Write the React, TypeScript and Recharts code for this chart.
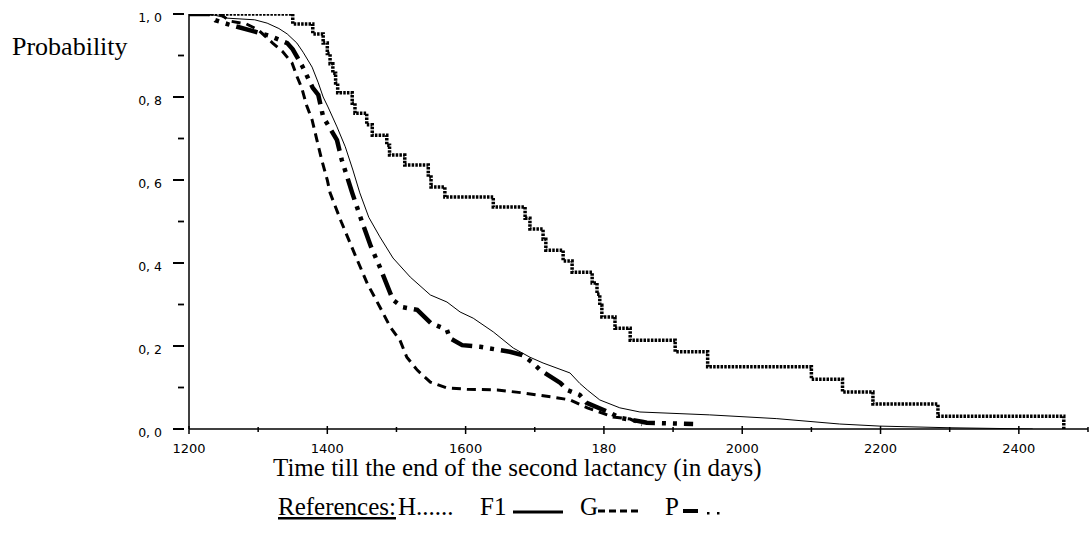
import React from 'react';
import { LineChart, Line, XAxis, YAxis } from 'recharts';

// ---- data (time in days, survival probability) ----
const seriesH = [
  { t: 1200, p: 1.0 }, { t: 1350, p: 0.976 }, { t: 1379, p: 0.952 }, { t: 1394, p: 0.93 },
  { t: 1400, p: 0.905 }, { t: 1404, p: 0.88 }, { t: 1408, p: 0.857 }, { t: 1412, p: 0.834 },
  { t: 1415, p: 0.81 }, { t: 1436, p: 0.785 }, { t: 1440, p: 0.761 }, { t: 1457, p: 0.733 },
  { t: 1465, p: 0.708 }, { t: 1486, p: 0.684 }, { t: 1490, p: 0.66 }, { t: 1512, p: 0.636 },
  { t: 1546, p: 0.607 }, { t: 1550, p: 0.583 }, { t: 1570, p: 0.559 }, { t: 1640, p: 0.535 },
  { t: 1686, p: 0.508 }, { t: 1693, p: 0.482 }, { t: 1712, p: 0.457 }, { t: 1716, p: 0.431 },
  { t: 1741, p: 0.405 }, { t: 1754, p: 0.378 }, { t: 1783, p: 0.352 }, { t: 1790, p: 0.325 },
  { t: 1794, p: 0.298 }, { t: 1797, p: 0.27 }, { t: 1816, p: 0.243 }, { t: 1838, p: 0.214 },
  { t: 1903, p: 0.186 }, { t: 1950, p: 0.15 }, { t: 2100, p: 0.12 }, { t: 2145, p: 0.089 },
  { t: 2189, p: 0.06 }, { t: 2283, p: 0.031 }, { t: 2465, p: 0.0 },
];

const seriesF1 = [
  { t: 1200, p: 1.0 }, { t: 1235, p: 0.998 }, { t: 1255, p: 0.99 }, { t: 1295, p: 0.986 },
  { t: 1313, p: 0.978 }, { t: 1330, p: 0.965 }, { t: 1342, p: 0.952 }, { t: 1356, p: 0.93 },
  { t: 1365, p: 0.908 }, { t: 1378, p: 0.872 }, { t: 1387, p: 0.834 }, { t: 1394, p: 0.8 },
  { t: 1401, p: 0.776 }, { t: 1414, p: 0.728 }, { t: 1426, p: 0.68 }, { t: 1437, p: 0.624 },
  { t: 1447, p: 0.569 }, { t: 1460, p: 0.51 }, { t: 1476, p: 0.463 }, { t: 1495, p: 0.412 },
  { t: 1520, p: 0.366 }, { t: 1549, p: 0.323 }, { t: 1573, p: 0.306 }, { t: 1592, p: 0.282 },
  { t: 1611, p: 0.267 }, { t: 1640, p: 0.234 }, { t: 1669, p: 0.195 }, { t: 1693, p: 0.173 },
  { t: 1712, p: 0.159 }, { t: 1751, p: 0.135 }, { t: 1765, p: 0.11 }, { t: 1776, p: 0.094 },
  { t: 1794, p: 0.07 }, { t: 1823, p: 0.051 }, { t: 1852, p: 0.041 }, { t: 1910, p: 0.037 },
  { t: 1953, p: 0.034 }, { t: 2050, p: 0.025 }, { t: 2141, p: 0.012 }, { t: 2199, p: 0.007 },
  { t: 2300, p: 0.003 }, { t: 2420, p: 0.0 },
];

const seriesG = [
  { t: 1200, p: 1.0 }, { t: 1245, p: 1.0 }, { t: 1259, p: 0.983 }, { t: 1283, p: 0.976 },
  { t: 1300, p: 0.962 }, { t: 1321, p: 0.93 }, { t: 1335, p: 0.91 }, { t: 1349, p: 0.882 },
  { t: 1356, p: 0.85 }, { t: 1363, p: 0.822 }, { t: 1370, p: 0.78 }, { t: 1378, p: 0.745 },
  { t: 1385, p: 0.696 }, { t: 1392, p: 0.648 }, { t: 1400, p: 0.6 }, { t: 1404, p: 0.569 },
  { t: 1420, p: 0.5 }, { t: 1440, p: 0.42 }, { t: 1458, p: 0.35 }, { t: 1476, p: 0.294 },
  { t: 1491, p: 0.246 }, { t: 1505, p: 0.214 }, { t: 1515, p: 0.173 }, { t: 1530, p: 0.142 },
  { t: 1549, p: 0.113 }, { t: 1573, p: 0.099 }, { t: 1602, p: 0.096 }, { t: 1646, p: 0.094 },
  { t: 1683, p: 0.087 }, { t: 1726, p: 0.077 }, { t: 1751, p: 0.07 }, { t: 1776, p: 0.051 },
  { t: 1813, p: 0.029 }, { t: 1838, p: 0.024 }, { t: 1855, p: 0.01 },
];

const seriesP = [
  { t: 1200, p: 1.0 }, { t: 1230, p: 1.0 }, { t: 1238, p: 0.985 }, { t: 1257, p: 0.975 },
  { t: 1290, p: 0.96 }, { t: 1317, p: 0.947 }, { t: 1342, p: 0.93 }, { t: 1350, p: 0.915 },
  { t: 1363, p: 0.877 }, { t: 1379, p: 0.822 }, { t: 1387, p: 0.805 }, { t: 1394, p: 0.752 },
  { t: 1414, p: 0.696 }, { t: 1421, p: 0.648 }, { t: 1436, p: 0.569 }, { t: 1450, p: 0.5 },
  { t: 1463, p: 0.44 }, { t: 1476, p: 0.39 }, { t: 1495, p: 0.311 }, { t: 1508, p: 0.294 },
  { t: 1530, p: 0.287 }, { t: 1550, p: 0.255 }, { t: 1573, p: 0.239 }, { t: 1577, p: 0.219 },
  { t: 1595, p: 0.202 }, { t: 1621, p: 0.198 }, { t: 1664, p: 0.186 }, { t: 1682, p: 0.178 },
  { t: 1696, p: 0.161 }, { t: 1708, p: 0.142 }, { t: 1737, p: 0.111 }, { t: 1747, p: 0.094 },
  { t: 1765, p: 0.082 }, { t: 1775, p: 0.063 }, { t: 1809, p: 0.039 }, { t: 1823, p: 0.027 },
  { t: 1857, p: 0.017 }, { t: 1862, p: 0.015 }, { t: 1929, p: 0.012 },
];

const xTicks = [1200, 1300, 1400, 1500, 1600, 1700, 1800, 1900, 2000, 2100, 2200, 2300, 2400, 2500];
const xTickLabels = ['1200', '', '1400', '', '1600', '', '180', '', '2000', '', '2200', '', '2400', ''];
const yTicks = [0, 0.1, 0.2, 0.3, 0.4, 0.5, 0.6, 0.7, 0.8, 0.9, 1.0];
const yTickLabels = ['0, 0', '', '0, 2', '', '0, 4', '', '0, 6', '', '0, 8', '', '1, 0'];

const SERIF = '"Liberation Serif", "Times New Roman", serif';
const SANS = '"DejaVu Sans", Verdana, sans-serif';

const XTick = (props: any) => {
  const { x, y, payload, index } = props;
  const label = xTickLabels[index] ?? '';
  const major = label !== '';
  return (
    <g>
      <line x1={x} x2={x} y1={y - (major ? 3 : 2)} y2={y + (major ? 5 : 3)} stroke="#000" strokeWidth={1.5} />
      {major && (
        <text x={x} y={y + 24} textAnchor="middle" fontFamily={SANS} fontSize={13} fill="#000">
          {label}
        </text>
      )}
    </g>
  );
};

const YTick = (props: any) => {
  const { x, y, index } = props;
  const label = yTickLabels[index] ?? '';
  const major = label !== '';
  return (
    <g>
      <line x1={x - (major ? 16 : 11)} x2={x - 5} y1={y} y2={y} stroke="#000" strokeWidth={major ? 2 : 1.8} />
      {major && (
        <text x={x - 27} y={y + 8} textAnchor="end" fontFamily={SANS} fontSize={12.5} fill="#000">
          {label}
        </text>
      )}
    </g>
  );
};

export default function App() {
  return (
    <div style={{ position: 'absolute', left: 0, top: 0, width: 1089, height: 538, background: '#fff' }}>
      <LineChart width={1089} height={538} margin={{ top: 14, right: 1, left: 129, bottom: 79 }}>
        <XAxis
          dataKey="t"
          type="number"
          domain={[1200, 2500]}
          ticks={xTicks}
          interval={0}
          height={30}
          tickSize={0}
          tickMargin={0}
          tickLine={false}
          tick={<XTick />}
          axisLine={{ stroke: '#000', strokeWidth: 1.5 }}
          allowDataOverflow
        />
        <YAxis
          type="number"
          domain={[0, 1]}
          ticks={yTicks}
          interval={0}
          width={60}
          tickSize={0}
          tickMargin={0}
          tickLine={false}
          tick={<YTick />}
          axisLine={{ stroke: '#000', strokeWidth: 1.5 }}
          allowDataOverflow
        />
        <Line data={seriesF1} dataKey="p" type="linear" stroke="#000" strokeWidth={1} dot={false} isAnimationActive={false} />
        <Line data={seriesG} dataKey="p" type="linear" stroke="#000" strokeWidth={3} strokeDasharray="9 6" dot={false} isAnimationActive={false} />
        <Line data={seriesP} dataKey="p" type="linear" stroke="#000" strokeWidth={4.5} strokeDasharray="22 7 4 7 4 7" dot={false} isAnimationActive={false} />
        <Line data={seriesH} dataKey="p" type="stepAfter" stroke="#000" strokeWidth={3.5} strokeDasharray="2.5 1.2" dot={false} isAnimationActive={false} />
      </LineChart>
      <svg width={1089} height={538} style={{ position: 'absolute', left: 0, top: 0, pointerEvents: 'none' }}>
        <text x={12} y={55} fontFamily={SERIF} fontSize={26} fill="#000">Probability</text>
        <text x={273} y={476} fontFamily={SERIF} fontSize={25} fill="#000">
          Time till the end of the second lactancy (in days)
        </text>
        <text x={278} y={515} fontFamily={SERIF} fontSize={25} fill="#000" textDecoration="underline">References:</text>
        <text x={398} y={515} fontFamily={SERIF} fontSize={25} fill="#000">H......</text>
        <text x={480} y={515} fontFamily={SERIF} fontSize={25} fill="#000">F1</text>
        <line x1={513} x2={563} y1={512} y2={512} stroke="#000" strokeWidth={3} />
        <text x={580} y={515} fontFamily={SERIF} fontSize={25} fill="#000">G</text>
        <line x1={598} x2={638} y1={511} y2={511} stroke="#000" strokeWidth={3} strokeDasharray="7 4" />
        <text x={665} y={515} fontFamily={SERIF} fontSize={25} fill="#000">P</text>
        <line x1={683} x2={698} y1={511} y2={511} stroke="#000" strokeWidth={4} />
        <rect x={707} y={512} width={2.5} height={2.5} fill="#000" />
        <rect x={717} y={512} width={2.5} height={2.5} fill="#000" />
      </svg>
    </div>
  );
}
